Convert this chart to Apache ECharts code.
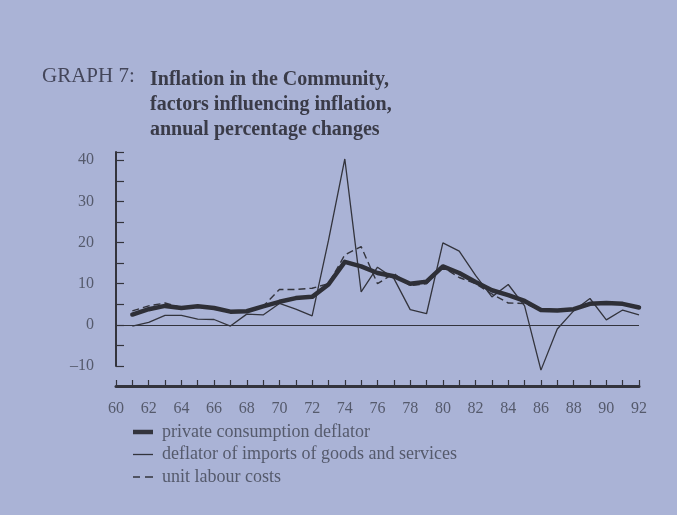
<!DOCTYPE html>
<html><head><meta charset="utf-8">
<script src="https://cdn.jsdelivr.net/npm/echarts@6/dist/echarts.min.js"></script>
<style>html,body{margin:0;padding:0;background:#aab3d6}#c{width:677px;height:515px}</style>
</head><body><div id="c"></div><script>
// ---- data ----
const years = [61,62,63,64,65,66,67,68,69,70,71,72,73,74,75,76,77,78,79,80,81,82,83,84,85,86,87,88,89,90,91,92];
const privateConsumptionDeflator = [2.5,3.8,4.6,4.1,4.5,4.1,3.2,3.3,4.5,5.6,6.5,6.8,9.8,15.3,14.2,12.6,11.8,10.0,10.5,14.2,12.6,10.4,8.4,7.2,5.8,3.6,3.5,3.8,5.1,5.3,5.1,4.2];
const importDeflator = [-0.3,0.6,2.3,2.3,1.4,1.3,-0.3,2.6,2.4,5.2,3.8,2.2,20.5,40.3,8.0,14.0,11.3,3.7,2.7,19.9,17.9,12.0,6.8,9.8,4.6,-11.0,-1.0,3.4,6.4,1.2,3.6,2.4];
const unitLabourCosts = [3.4,4.6,5.3,4.2,4.6,4.0,3.3,3.4,4.5,8.6,8.6,8.9,10.0,17.0,19.0,10.0,12.5,9.5,10.0,14.0,11.5,10.0,7.5,5.3,5.2,3.6,3.4,3.8,4.9,5.5,5.2,4.0];
const xTickLabels = [60,62,64,66,68,70,72,74,76,78,80,82,84,86,88,90,92];
const yTickLabels = [-10,0,10,20,30,40];
const seriesNames = ['private consumption deflator','deflator of imports of goods and services','unit labour costs'];
const titleLead = 'GRAPH 7:';
const titleLines = ['Inflation in the Community,','factors influencing inflation,','annual percentage changes'];

const pair = arr => years.map((y, i) => [y, arr[i]]);
const serif = '"Liberation Serif","DejaVu Serif",serif';
const ink = '#33343d';
const textGray = '#555a6c';

const chart = echarts.init(document.getElementById('c'), null, {renderer: 'canvas'});
chart.setOption({
  backgroundColor: '#aab3d6',
  animation: false,
  grid: {left: 116, right: 38, top: 152, bottom: 149},
  xAxis: {
    type: 'value', min: 60, max: 92, interval: 1, offset: 20,
    axisLine: {show: true, onZero: false, lineStyle: {color: ink, width: 3}},
    axisTick: {show: true, inside: true, length: 6, lineStyle: {color: ink, width: 1.2}},
    axisLabel: {formatter: v => xTickLabels.includes(v) ? String(v) : '', margin: 15,
      color: textGray, fontFamily: serif, fontSize: 16, showMaxLabel: true, showMinLabel: true},
    splitLine: {show: false}
  },
  yAxis: {
    type: 'value', min: -10, max: 42, interval: 5,
    axisLine: {show: true, onZero: false, lineStyle: {color: ink, width: 2}},
    axisTick: {show: true, inside: true, length: 8, lineStyle: {color: ink, width: 1.2}},
    axisLabel: {formatter: v => yTickLabels.includes(v) ? (v < 0 ? '\u2013' + Math.abs(v) : String(v)) : '',
      margin: 22, color: textGray, fontFamily: serif, fontSize: 16},
    splitLine: {show: false}
  },
  legend: {
    orient: 'vertical', left: 133, top: 423, padding: 0, itemWidth: 20, itemHeight: 14, itemGap: 4.5,
    symbolKeepAspect: true,
    data: [
      {name: seriesNames[0], icon: 'path://M0,0L20,0L20,4.5L0,4.5Z'},
      {name: seriesNames[1], icon: 'path://M0,0L20,0L20,1.3L0,1.3Z'},
      {name: seriesNames[2], icon: 'path://M0,0L7,0L7,1.3L0,1.3Z M12,0L20,0L20,1.3L12,1.3Z'}
    ],
    itemStyle: {color: ink, borderWidth: 0},
    lineStyle: {width: 0, opacity: 0},
    textStyle: {color: textGray, fontFamily: serif, fontSize: 18, padding: [0, 0, 0, 4]}
  },
  graphic: [
    {type: 'text', left: 42, top: 66, style: {text: titleLead, fontFamily: serif, fontSize: 21, fill: '#44465a'}},
    {type: 'text', left: 150, top: 67, style: {text: titleLines.join('\n'), fontFamily: serif, fontSize: 20,
      fontWeight: 'bold', fill: '#3a3b48', lineHeight: 25}}
  ],
  series: [
    {name: seriesNames[1], type: 'line', data: pair(importDeflator), showSymbol: false, symbol: 'none',
      clip: false, z: 2, lineStyle: {color: ink, width: 1.3}, itemStyle: {color: ink},
      markLine: {silent: true, symbol: 'none', label: {show: false}, data: [{yAxis: 0}],
        lineStyle: {color: ink, width: 1.2, type: 'solid'}}},
    {name: seriesNames[2], type: 'line', data: pair(unitLabourCosts), showSymbol: false, symbol: 'none',
      clip: false, z: 3, lineStyle: {color: ink, width: 1.4, type: [7, 4]}, itemStyle: {color: ink}},
    {name: seriesNames[0], type: 'line', data: pair(privateConsumptionDeflator), showSymbol: false, symbol: 'none',
      clip: false, z: 4, lineStyle: {color: '#2e2f37', width: 4.5, cap: 'round', join: 'round'}, itemStyle: {color: '#2e2f37'}}
  ]
});
</script></body></html>
